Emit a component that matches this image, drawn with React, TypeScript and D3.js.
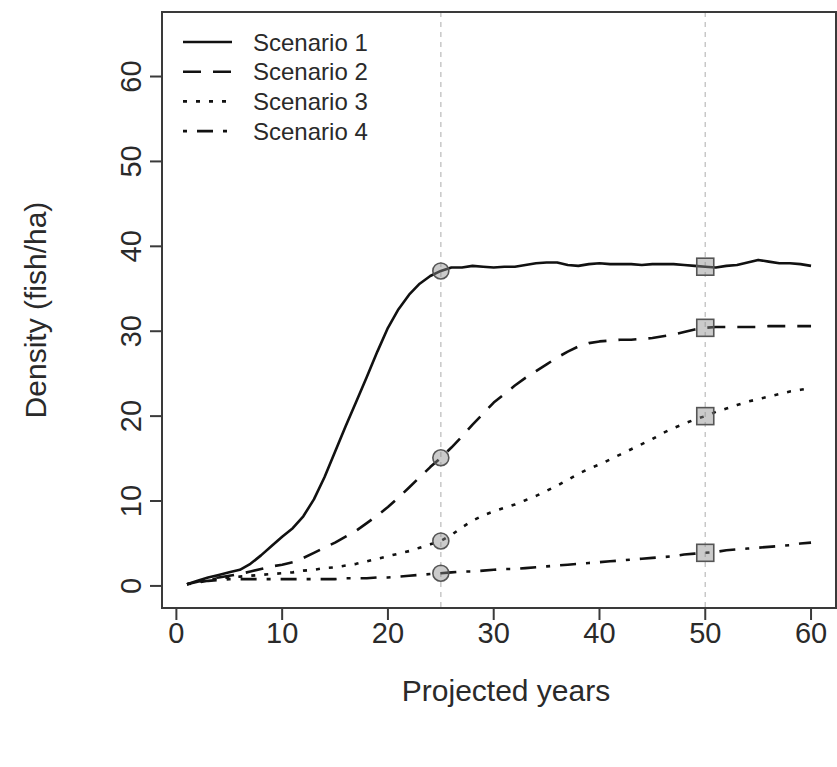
import React from "react";
import * as d3 from "d3";

const years: number[] = d3.range(1, 61);

const scenario1: number[] = [
  0.2, 0.6, 1.0, 1.3, 1.6, 1.9, 2.6, 3.6, 4.7, 5.8,
  6.8, 8.2, 10.2, 12.8, 15.8, 18.8, 21.7, 24.6, 27.6, 30.4,
  32.6, 34.3, 35.6, 36.5, 37.1, 37.5, 37.5, 37.7, 37.6, 37.5,
  37.6, 37.6, 37.8, 38.0, 38.1, 38.1, 37.8, 37.7, 37.9, 38.0,
  37.9, 37.9, 37.9, 37.8, 37.9, 37.9, 37.9, 37.8, 37.7, 37.6,
  37.5, 37.7, 37.8, 38.1, 38.4, 38.2, 38.0, 38.0, 37.9, 37.7,
];
const scenario2: number[] = [
  0.2, 0.5, 0.8, 1.0, 1.2, 1.4, 1.7, 2.0, 2.3, 2.5,
  2.8, 3.3, 3.9, 4.5, 5.1, 5.8, 6.5, 7.4, 8.3, 9.3,
  10.4, 11.6, 12.8, 14.0, 15.1, 16.3, 17.6, 19.0, 20.3, 21.6,
  22.6, 23.6, 24.5, 25.3, 26.1, 26.9, 27.6, 28.2, 28.6, 28.8,
  28.9, 29.0, 29.0, 29.1, 29.2, 29.4, 29.6, 29.9, 30.2, 30.4,
  30.5, 30.5, 30.5, 30.5, 30.5, 30.6, 30.6, 30.6, 30.6, 30.6,
];
const scenario3: number[] = [
  0.2, 0.5, 0.7, 0.9, 1.0, 1.1, 1.2, 1.3, 1.4, 1.5,
  1.6, 1.8, 1.9, 2.1, 2.2, 2.4, 2.6, 2.9, 3.2, 3.5,
  3.8, 4.1, 4.5, 4.9, 5.3, 6.0, 6.9, 7.7, 8.3, 8.8,
  9.2, 9.6, 10.1, 10.6, 11.2, 11.8, 12.5, 13.2, 13.8, 14.3,
  14.9, 15.5, 16.1, 16.7, 17.3, 18.0, 18.6, 19.1, 19.6, 20.0,
  20.5, 20.9, 21.3, 21.7, 22.0, 22.3, 22.6, 22.9, 23.1, 23.3,
];
const scenario4: number[] = [
  0.2, 0.4, 0.6, 0.7, 0.8, 0.8, 0.8, 0.8, 0.8, 0.8,
  0.8, 0.8, 0.8, 0.8, 0.8, 0.9, 0.9, 0.9, 1.0, 1.0,
  1.1, 1.2, 1.3, 1.4, 1.5, 1.6, 1.7, 1.7, 1.8, 1.9,
  2.0, 2.0, 2.1, 2.2, 2.3, 2.4, 2.5, 2.6, 2.7, 2.8,
  2.9, 3.0, 3.1, 3.2, 3.3, 3.4, 3.5, 3.7, 3.8, 3.9,
  4.0, 4.2, 4.3, 4.4, 4.5, 4.6, 4.7, 4.8, 5.0, 5.1,
];

const seriesNames: string[] = ["Scenario 1", "Scenario 2", "Scenario 3", "Scenario 4"];
const seriesValues: number[][] = [scenario1, scenario2, scenario3, scenario4];
const dashPatterns: string[] = ["none", "18,12", "4,9", "4,10,16,10"];

const xTicks: number[] = [0, 10, 20, 30, 40, 50, 60];
const yTicks: number[] = [0, 10, 20, 30, 40, 50, 60];
const markYears: number[] = [25, 50];

const xLabel = "Projected years";
const yLabel = "Density (fish/ha)";

const W = 837;
const H = 767;
const L = 162, R = 836, T = 12, B = 608;

export default function App() {
  const xExt = (60 - 1) * 0.04;
  const x = d3.scaleLinear().domain([1 - xExt, 60 + xExt]).range([L, R]);
  const yExt = 65 * 0.04;
  const y = d3.scaleLinear().domain([0 - yExt, 65 + yExt]).range([B, T]);

  const line = d3
    .line<number>()
    .x((_, i) => x(years[i]))
    .y((d) => y(d));

  const font = "'Liberation Sans', Arial, sans-serif";
  const textColor = "#2a2a2a";

  return (
    <svg
      width={W}
      height={H}
      style={{ position: "absolute", left: 0, top: 0, background: "#fff" }}
      fontFamily={font}
    >
      {/* reference vertical lines */}
      {markYears.map((yr) => (
        <line
          key={"v" + yr}
          x1={x(yr)}
          x2={x(yr)}
          y1={T}
          y2={B}
          stroke="#c8c8c8"
          strokeWidth={1.5}
          strokeDasharray="5,5"
        />
      ))}

      {/* series */}
      {seriesValues.map((vals, i) => (
        <path
          key={"s" + i}
          d={line(vals) || ""}
          fill="none"
          stroke="#111"
          strokeWidth={2.6}
          strokeDasharray={dashPatterns[i]}
          strokeLinejoin="round"
        />
      ))}

      {/* markers */}
      {seriesValues.map((vals, i) => (
        <g key={"m" + i}>
          <circle
            cx={x(25)}
            cy={y(vals[25 - 1])}
            r={8}
            fill="rgba(140,140,140,0.45)"
            stroke="#555"
            strokeWidth={1.6}
          />
          <rect
            x={x(50) - 8.5}
            y={y(vals[50 - 1]) - 8.5}
            width={17}
            height={17}
            fill="rgba(140,140,140,0.45)"
            stroke="#555"
            strokeWidth={1.6}
          />
        </g>
      ))}

      {/* box */}
      <rect x={L} y={T} width={R - L} height={B - T} fill="none" stroke="#3a3a3a" strokeWidth={2} />

      {/* x axis */}
      {xTicks.map((t) => (
        <g key={"xt" + t}>
          <line x1={x(t)} x2={x(t)} y1={B} y2={B + 12} stroke="#3a3a3a" strokeWidth={2} />
          <text
            x={x(t)}
            y={643}
            textAnchor="middle"
            fontSize={29}
            fill={textColor}
          >
            {t}
          </text>
        </g>
      ))}
      <text x={(L + R) / 2 + 7} y={701} textAnchor="middle" fontSize={30} fill={textColor}>
        {xLabel}
      </text>

      {/* y axis */}
      {yTicks.map((t) => (
        <g key={"yt" + t}>
          <line x1={L - 12} x2={L} y1={y(t)} y2={y(t)} stroke="#3a3a3a" strokeWidth={2} />
          <text
            transform={`translate(${141},${y(t)}) rotate(-90)`}
            textAnchor="middle"
            fontSize={29}
            fill={textColor}
          >
            {t}
          </text>
        </g>
      ))}
      <text
        transform={`translate(${46},${(T + B) / 2}) rotate(-90)`}
        textAnchor="middle"
        fontSize={30}
        fill={textColor}
      >
        {yLabel}
      </text>

      {/* legend */}
      {seriesNames.map((name, i) => {
        const cy = 42 + i * 29.7;
        return (
          <g key={"lg" + i}>
            <line
              x1={183}
              x2={232}
              y1={cy}
              y2={cy}
              stroke="#111"
              strokeWidth={2.6}
              strokeDasharray={dashPatterns[i]}
            />
            <text x={253} y={cy + 8.5} fontSize={24} fill={textColor}>
              {name}
            </text>
          </g>
        );
      })}
    </svg>
  );
}
